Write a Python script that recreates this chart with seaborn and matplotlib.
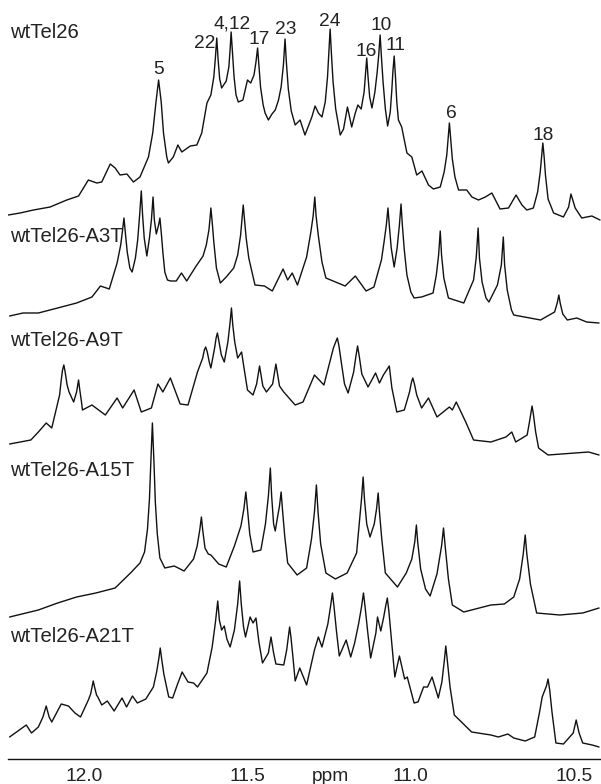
import numpy as np
import pandas as pd
import matplotlib
matplotlib.use("Agg")
import matplotlib.pyplot as plt
import matplotlib.ticker as mticker
import seaborn as sns

# ---------------- data ----------------
SAMPLES = ["wtTel26", "wtTel26-A3T", "wtTel26-A9T", "wtTel26-A15T", "wtTel26-A21T"]
OFFSETS = [542, 439, 309, 145, 17]          # vertical stacking offsets (intensity units)
LABEL_Y = [726, 522, 419, 289, 122]         # sample-name label heights

# (chemical shift in ppm, intensity)
T1_POINTS = [
    (12.232, 2), (12.196, 4), (12.155, 7), (12.104, 10), (12.053, 17), (12.017, 21),
    (11.987, 37), (11.961, 34), (11.946, 35), (11.920, 53), (11.905, 49), (11.890, 42),
    (11.869, 43), (11.849, 35), (11.829, 40), (11.803, 60), (11.790, 84), (11.780, 115),
    (11.772, 137), (11.764, 115), (11.757, 84), (11.747, 60), (11.742, 54), (11.727, 60),
    (11.713, 72), (11.701, 65), (11.675, 71), (11.655, 72), (11.640, 84), (11.624, 114),
    (11.612, 122), (11.603, 140), (11.598, 160), (11.594, 179), (11.590, 158), (11.585, 138),
    (11.579, 129), (11.565, 136), (11.557, 150), (11.553, 168), (11.550, 185), (11.546, 165),
    (11.541, 140), (11.535, 122), (11.528, 115), (11.514, 117), (11.500, 137), (11.490, 134),
    (11.480, 142), (11.474, 155), (11.469, 169), (11.465, 152), (11.460, 130), (11.452, 112),
    (11.446, 104), (11.436, 97), (11.425, 103), (11.415, 107), (11.405, 117), (11.397, 130),
    (11.390, 152), (11.385, 178), (11.381, 155), (11.375, 128), (11.366, 106), (11.354, 92),
    (11.339, 97), (11.324, 82), (11.303, 100), (11.293, 111), (11.283, 104), (11.272, 100),
    (11.262, 115), (11.255, 140), (11.251, 163), (11.247, 188), (11.243, 163), (11.238, 135),
    (11.230, 108), (11.216, 82), (11.206, 88), (11.194, 110), (11.181, 90), (11.170, 104),
    (11.162, 112), (11.152, 108), (11.143, 125), (11.139, 142), (11.135, 159), (11.131, 140),
    (11.126, 120), (11.119, 109), (11.110, 125), (11.103, 145), (11.098, 163), (11.094, 182),
    (11.090, 160), (11.085, 135), (11.078, 108), (11.071, 91), (11.063, 105), (11.058, 128),
    (11.055, 145), (11.051, 161), (11.047, 140), (11.043, 115), (11.038, 97), (11.028, 90),
    (11.012, 64), (10.997, 60), (10.982, 42), (10.966, 46), (10.946, 32), (10.931, 28),
    (10.910, 30), (10.898, 45), (10.890, 62), (10.886, 78), (10.882, 94), (10.878, 78),
    (10.873, 58), (10.865, 40), (10.854, 27), (10.829, 27), (10.813, 20), (10.793, 17),
    (10.772, 20), (10.752, 24), (10.727, 8), (10.701, 9), (10.678, 22), (10.660, 12),
    (10.645, 7), (10.625, 9), (10.612, 25), (10.604, 45), (10.600, 60), (10.596, 74),
    (10.592, 60), (10.588, 42), (10.580, 18), (10.563, 4), (10.533, 0), (10.517, 10),
    (10.510, 23), (10.497, 9), (10.477, -1), (10.461, 0), (10.446, 1), (10.421, -3),
]

T2_POINTS = [
    (12.228, 4), (12.187, 7), (12.140, 7), (12.081, 12), (12.023, 17), (11.976, 23),
    (11.950, 34), (11.923, 31), (11.899, 57), (11.888, 75), (11.883, 88), (11.878, 102),
    (11.874, 88), (11.868, 68), (11.860, 52), (11.853, 48), (11.843, 62), (11.836, 80),
    (11.830, 105), (11.825, 129), (11.821, 105), (11.816, 82), (11.808, 64), (11.800, 82),
    (11.794, 100), (11.789, 123), (11.785, 100), (11.779, 86), (11.772, 95), (11.768, 102),
    (11.764, 88), (11.759, 68), (11.753, 48), (11.745, 40), (11.735, 39), (11.718, 39),
    (11.702, 47), (11.686, 39), (11.659, 53), (11.636, 64), (11.626, 75), (11.618, 90),
    (11.615, 100), (11.612, 112), (11.608, 98), (11.603, 78), (11.595, 52), (11.583, 37),
    (11.565, 43), (11.542, 52), (11.530, 65), (11.521, 85), (11.517, 100), (11.513, 115),
    (11.509, 100), (11.504, 82), (11.496, 62), (11.489, 52), (11.477, 35), (11.448, 34),
    (11.424, 29), (11.391, 51), (11.377, 40), (11.363, 47), (11.347, 35), (11.319, 63),
    (11.306, 88), (11.299, 104), (11.294, 123), (11.290, 104), (11.283, 84), (11.272, 58),
    (11.260, 42), (11.201, 34), (11.170, 44), (11.137, 29), (11.113, 33), (11.090, 60),
    (11.082, 78), (11.075, 95), (11.070, 112), (11.066, 95), (11.060, 72), (11.051, 53),
    (11.042, 72), (11.035, 95), (11.030, 116), (11.026, 95), (11.020, 70), (11.012, 45),
    (11.000, 28), (10.990, 22), (10.967, 23), (10.932, 27), (10.922, 45), (10.915, 65),
    (10.910, 89), (10.906, 65), (10.899, 42), (10.885, 22), (10.838, 17), (10.808, 40),
    (10.800, 62), (10.794, 92), (10.790, 62), (10.782, 38), (10.770, 22), (10.761, 18),
    (10.735, 35), (10.723, 55), (10.717, 83), (10.713, 55), (10.705, 30), (10.692, 10),
    (10.685, 5), (10.603, 0), (10.560, 8), (10.552, 17), (10.547, 25), (10.543, 17),
    (10.535, 6), (10.521, 0), (10.492, 2), (10.462, -2), (10.424, -3),
]

T3_POINTS = [
    (12.228, 6), (12.163, 10), (12.140, 18), (12.116, 27), (12.099, 22), (12.075, 55),
    (12.070, 70), (12.066, 80), (12.062, 85), (12.058, 78), (12.052, 65), (12.046, 58),
    (12.032, 48), (12.023, 58), (12.020, 64), (12.017, 70), (12.014, 62), (12.008, 48),
    (12.005, 40), (11.976, 45), (11.935, 35), (11.899, 52), (11.882, 42), (11.847, 60),
    (11.825, 38), (11.794, 42), (11.774, 66), (11.759, 58), (11.736, 72), (11.706, 46),
    (11.682, 45), (11.653, 78), (11.637, 92), (11.632, 100), (11.628, 103), (11.623, 98),
    (11.617, 88), (11.612, 82), (11.600, 103), (11.596, 112), (11.592, 117), (11.588, 110),
    (11.580, 95), (11.571, 88), (11.560, 108), (11.554, 125), (11.549, 142), (11.545, 125),
    (11.539, 108), (11.530, 92), (11.522, 96), (11.518, 98), (11.512, 85), (11.500, 60),
    (11.483, 55), (11.472, 66), (11.467, 76), (11.463, 84), (11.459, 76), (11.453, 64),
    (11.442, 58), (11.423, 66), (11.417, 78), (11.413, 86), (11.409, 78), (11.402, 64),
    (11.389, 58), (11.354, 45), (11.330, 48), (11.295, 75), (11.266, 65), (11.237, 102),
    (11.230, 108), (11.225, 112), (11.220, 104), (11.213, 88), (11.203, 66), (11.192, 57),
    (11.175, 78), (11.168, 94), (11.163, 104), (11.158, 94), (11.150, 76), (11.131, 63),
    (11.108, 77), (11.096, 67), (11.084, 75), (11.066, 84), (11.058, 62), (11.043, 38),
    (11.020, 40), (11.004, 58), (10.998, 68), (10.994, 72), (10.989, 66), (10.982, 55),
    (10.967, 42), (10.946, 52), (10.920, 33), (10.882, 43), (10.873, 40), (10.861, 48),
    (10.832, 28), (10.808, 10), (10.755, 8), (10.709, 13), (10.691, 18), (10.679, 8),
    (10.644, 15), (10.638, 26), (10.633, 36), (10.629, 44), (10.625, 36), (10.618, 18),
    (10.609, 2), (10.580, -5), (10.498, -3), (10.456, -2), (10.424, -5),
]

T4_POINTS = [
    (12.228, -3), (12.140, 4), (12.081, 11), (12.023, 17), (11.964, 21), (11.905, 26),
    (11.858, 41), (11.829, 51), (11.815, 62), (11.806, 85), (11.800, 115), (11.796, 150),
    (11.791, 191), (11.786, 150), (11.782, 112), (11.776, 80), (11.768, 56), (11.753, 46),
    (11.724, 48), (11.694, 43), (11.665, 55), (11.654, 68), (11.646, 84), (11.641, 97),
    (11.637, 84), (11.630, 66), (11.620, 60), (11.612, 59), (11.588, 50), (11.565, 47),
    (11.540, 68), (11.520, 88), (11.511, 105), (11.505, 122), (11.500, 105), (11.493, 80),
    (11.483, 62), (11.459, 64), (11.445, 90), (11.436, 118), (11.430, 146), (11.426, 118),
    (11.420, 90), (11.415, 83), (11.409, 95), (11.402, 108), (11.397, 122), (11.393, 105),
    (11.386, 78), (11.377, 51), (11.348, 39), (11.319, 46), (11.304, 75), (11.295, 102),
    (11.289, 129), (11.284, 102), (11.276, 70), (11.260, 41), (11.231, 35), (11.195, 41),
    (11.166, 61), (11.158, 90), (11.151, 115), (11.146, 137), (11.142, 115), (11.135, 90),
    (11.125, 77), (11.112, 90), (11.105, 105), (11.100, 121), (11.096, 102), (11.089, 75),
    (11.078, 41), (11.041, 27), (11.014, 41), (10.997, 55), (10.988, 72), (10.983, 89),
    (10.979, 72), (10.970, 45), (10.955, 25), (10.941, 18), (10.920, 40), (10.906, 68),
    (10.900, 86), (10.895, 68), (10.885, 35), (10.873, 9), (10.838, 2), (10.755, 9),
    (10.714, 10), (10.685, 17), (10.667, 35), (10.656, 60), (10.650, 79), (10.645, 60),
    (10.634, 30), (10.615, 1), (10.544, -1), (10.474, 1), (10.424, 6),
]

T5_POINTS = [
    (12.228, 5), (12.177, 17), (12.161, 9), (12.140, 15), (12.126, 25), (12.116, 36),
    (12.107, 25), (12.099, 20), (12.070, 38), (12.048, 36), (12.028, 29), (12.011, 25),
    (11.987, 42), (11.980, 48), (11.975, 56), (11.972, 61), (11.968, 55), (11.962, 47),
    (11.958, 45), (11.946, 37), (11.929, 41), (11.908, 31), (11.884, 44), (11.870, 35),
    (11.852, 46), (11.837, 39), (11.811, 43), (11.788, 55), (11.778, 70), (11.771, 84),
    (11.767, 94), (11.763, 84), (11.756, 68), (11.741, 45), (11.729, 44), (11.715, 57),
    (11.700, 70), (11.682, 60), (11.665, 59), (11.653, 55), (11.624, 69), (11.608, 95),
    (11.598, 120), (11.591, 141), (11.586, 122), (11.579, 112), (11.571, 116), (11.563, 103),
    (11.553, 95), (11.540, 112), (11.530, 138), (11.524, 161), (11.519, 138), (11.512, 115),
    (11.506, 105), (11.492, 125), (11.483, 119), (11.474, 124), (11.465, 100), (11.454, 79),
    (11.436, 89), (11.428, 105), (11.420, 89), (11.413, 78), (11.389, 77), (11.380, 92),
    (11.375, 105), (11.371, 115), (11.367, 105), (11.360, 82), (11.354, 61), (11.340, 74),
    (11.319, 57), (11.295, 92), (11.283, 105), (11.272, 95), (11.254, 118), (11.246, 135),
    (11.240, 149), (11.235, 135), (11.228, 112), (11.219, 86), (11.198, 102), (11.184, 85),
    (11.172, 99), (11.160, 118), (11.151, 135), (11.145, 149), (11.140, 135), (11.132, 110),
    (11.123, 84), (11.107, 109), (11.102, 125), (11.092, 111), (11.083, 125), (11.077, 136),
    (11.072, 144), (11.067, 130), (11.060, 105), (11.049, 65), (11.035, 86), (11.019, 63),
    (11.011, 65), (10.990, 39), (10.978, 40), (10.961, 55), (10.949, 55), (10.935, 65),
    (10.916, 44), (10.905, 60), (10.898, 80), (10.893, 96), (10.888, 80), (10.880, 55),
    (10.867, 27), (10.814, 10), (10.755, 7), (10.732, 5), (10.703, 8), (10.685, 4),
    (10.650, 1), (10.621, 5), (10.606, 30), (10.598, 45), (10.592, 50), (10.585, 56),
    (10.580, 63), (10.575, 52), (10.568, 30), (10.556, -1), (10.533, -2), (10.503, 9),
    (10.494, 22), (10.485, 9), (10.474, -1), (10.445, -3), (10.424, -5),
]

PEAK_LABELS = ["5", "22", "4,12", "17", "23", "24", "16", "10", "11", "6", "18"]
PEAK_LABEL_PPM = [11.773, 11.630, 11.547, 11.464, 11.382, 11.247, 11.137, 11.091, 11.048, 10.877, 10.595]
PEAK_LABEL_Y = [689, 716, 735, 719, 729, 737, 708, 733, 713, 646, 624]

MAJOR_TICKS = [12.0, 11.5, 11.0, 10.5]
X_LABEL = "ppm"

# ---------------- build long table ----------------
traces = [T1_POINTS, T2_POINTS, T3_POINTS, T4_POINTS, T5_POINTS]
frames = []
for name, off, pts in zip(SAMPLES, OFFSETS, traces):
    p, v = zip(*pts)
    frames.append(pd.DataFrame({"sample": name, "ppm": p,
                                "signal": np.asarray(v, float) + off}))
df = pd.concat(frames, ignore_index=True)

# ---------------- plot ----------------
sns.set_style("white")
plt.rcParams["font.family"] = ["Liberation Sans", "DejaVu Sans"]
FS = 13.8
FS_NAME = 14.6

fig = plt.figure(figsize=(6.01, 7.84), dpi=100)
ax = fig.add_axes([8.3 / 601, 25 / 784, 1 - 8.3 / 601, 759 / 784])

for name in SAMPLES:
    sub = df[df["sample"] == name]
    sns.lineplot(data=sub, x="ppm", y="signal", ax=ax, color="#111111",
                 linewidth=1.0, estimator=None, sort=True, legend=False)

ax.set_xlim(12.232, 10.418)
ax.set_ylim(0, 759)

for name, ly in zip(SAMPLES, LABEL_Y):
    ax.text(12.226, ly, name, fontsize=FS_NAME, ha="left", va="center", color="#222222")

for t, xp, yp in zip(PEAK_LABELS, PEAK_LABEL_PPM, PEAK_LABEL_Y):
    ax.text(xp, yp, t, fontsize=FS, ha="center", va="center", color="#222222")

for s in ["top", "right", "left"]:
    ax.spines[s].set_visible(False)
ax.spines["bottom"].set_linewidth(1.0)
ax.spines["bottom"].set_color("#111111")
ax.set_yticks([])
ax.xaxis.set_major_locator(mticker.FixedLocator(MAJOR_TICKS))
ax.xaxis.set_minor_locator(mticker.MultipleLocator(0.1))
ax.xaxis.set_major_formatter(mticker.FormatStrFormatter("%.1f"))
ax.tick_params(axis="x", which="major", direction="out", length=4, width=1.0,
               labelsize=FS, pad=2.5, colors="#111111", labelcolor="#222222")
ax.tick_params(axis="x", which="minor", direction="out", length=2.5, width=1.0,
               colors="#111111")
ax.set_xlabel("")
ax.set_ylabel("")
ax.annotate(X_LABEL, xy=(11.247, 0), xycoords=("data", "axes fraction"),
            xytext=(0, -6.5), textcoords="offset points",
            fontsize=FS, ha="center", va="top", color="#222222")

fig.savefig("out.png", dpi=100)
